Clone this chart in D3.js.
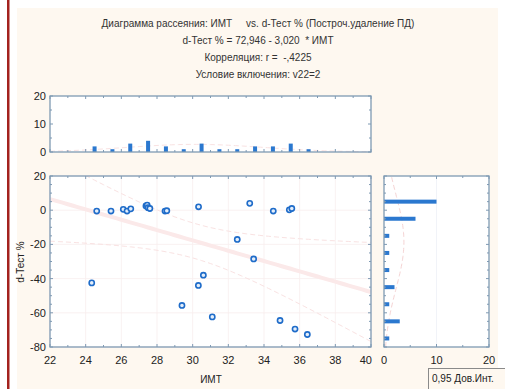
<!DOCTYPE html>
<html><head><meta charset="utf-8">
<script src="https://cdn.jsdelivr.net/npm/d3@7"></script>
<style>body{margin:0;background:#fff;}svg{display:block;font-family:"Liberation Sans",Arial,sans-serif;}</style>
</head><body><svg id="c" width="505" height="389"></svg>
<script>
// ---- data ----
const titleLines = ["Диаграмма рассеяния: ИМТ     vs. d-Тест % (Построч.удаление ПД)",
  "d-Тест % = 72,946 - 3,020  * ИМТ", "Корреляция: r =  -,4225", "Условие включения: v22=2"];
const imt   = [24.62,25.42,26.11,26.32,26.53,27.38,27.45,27.5,27.6,28.45,28.55,30.33,33.2,34.52,35.42,35.56,
               32.5,33.42,30.6,30.32,24.34,29.4,31.1,34.9,35.74,36.43];
const dtest = [-0.5,-0.5,0.5,-0.5,0.8,2.5,3,1.5,1,-0.5,-0.3,2,4,-0.5,0.2,1,
               -17.1,-28.5,-38,-44,-42.5,-55.7,-62.4,-64.5,-69.5,-72.7];
const regA = 72.946, regB = -3.020;
const xTicks = [22,24,26,28,30,32,34,36,38,40];
const yTicks = [20,0,-20,-40,-60,-80];
const topBinStarts = [24,25,26,27,28,29,30,31,32,33,34,35,36];
const topCounts    = [2,1,3,4,2,1,3,1,1,2,2,3,1];
const topTicks = [0,10,20];
const rightBinStarts = [0,-10,-20,-30,-40,-50,-60,-70,-80];
const rightCounts    = [10,6,1,1,1,2,1,3,1];
const rightTicks = [0,10,20];

const svg = d3.select("#c");
// background
svg.append("rect").attr("x",0).attr("y",0).attr("width",505).attr("height",389).attr("fill","#fff");
svg.append("rect").attr("x",17).attr("y",8).attr("width",481).attr("height",381).attr("fill","#fef8f0");
svg.append("rect").attr("x",7).attr("y",0).attr("width",2.5).attr("height",389).attr("fill","#a3221e");

const frameCol = "#7f9ab3", ptCol = "#1f6cc9", barCol = "#2b78cf", txtCol = "#222", pink = "#f9e2e2";

// titles
const ty = [23,40,57,74];
titleLines.forEach((t,i)=>svg.append("text").attr("x",258).attr("y",ty[i]+3.5).attr("text-anchor","middle")
  .attr("font-size",10).attr("fill","#333").style("white-space","pre").text(t));

// scales
const x = d3.scaleLinear().domain([22,40]).range([50,371]);
const y = d3.scaleLinear().domain([-80,20]).range([347,176]);
const yTop = d3.scaleLinear().domain([0,20]).range([152,96]);
const xR = d3.scaleLinear().domain([0,20]).range([384,489]);

// plot backgrounds
svg.append("rect").attr("x",50).attr("y",176).attr("width",321).attr("height",171).attr("fill","#fff");
svg.append("rect").attr("x",50).attr("y",96).attr("width",321).attr("height",56).attr("fill","#fff");
svg.append("rect").attr("x",384).attr("y",176).attr("width",105).attr("height",171).attr("fill","#fff");

// faint grids
const g = svg.append("g");
xTicks.forEach(v=>{ g.append("line").attr("x1",x(v)).attr("x2",x(v)).attr("y1",176).attr("y2",347).attr("stroke","#f8eded").attr("stroke-width",0.8);});
yTicks.forEach(v=>{ g.append("line").attr("x1",50).attr("x2",371).attr("y1",y(v)).attr("y2",y(v)).attr("stroke","#f8eded").attr("stroke-width",0.8);});
svg.append("line").attr("x1",xR(10)).attr("x2",xR(10)).attr("y1",176).attr("y2",347).attr("stroke","#eef0f6").attr("stroke-width",0.8);

// regression + confidence band (clipped)
svg.append("clipPath").attr("id","clipM").append("rect").attr("x",50).attr("y",176).attr("width",321).attr("height",171);
const cg = svg.append("g").attr("clip-path","url(#clipM)");
const n = imt.length, mx = d3.mean(imt);
const sxx = d3.sum(imt,v=>(v-mx)*(v-mx));
const se = Math.sqrt(d3.sum(imt,(v,i)=>Math.pow(dtest[i]-(regA+regB*v),2))/(n-2));
const xs = d3.range(22,40.01,0.25);
cg.append("path").datum(xs).attr("d",d3.line().x(v=>x(v)).y(v=>y(regA+regB*v)))
  .attr("fill","none").attr("stroke","#fbe9e9").attr("stroke-width",4);
[-1,1].forEach(s=>cg.append("path").datum(xs)
  .attr("d",d3.line().x(v=>x(v)).y(v=>y(regA+regB*v + s*2.06*se*Math.sqrt(1/n+(v-mx)*(v-mx)/sxx))))
  .attr("fill","none").attr("stroke",pink).attr("stroke-width",1).attr("stroke-dasharray","5,3"));

// points
svg.append("g").selectAll("circle").data(imt).join("circle")
  .attr("cx",(d)=>x(d)).attr("cy",(d,i)=>y(dtest[i])).attr("r",2.6)
  .attr("fill","#e4eefa").attr("stroke",ptCol).attr("stroke-width",1.6);

// top histogram
const yMean = d3.mean(dtest), ySd = d3.deviation(dtest), xSd = d3.deviation(imt);
svg.append("path").datum(d3.range(22,40.01,0.2)).attr("d",d3.line().x(v=>x(v))
  .y(v=>yTop(n*1*Math.exp(-0.5*Math.pow((v-mx)/xSd,2))/(xSd*Math.sqrt(2*Math.PI)))))
  .attr("fill","none").attr("stroke",pink).attr("stroke-width",1).attr("stroke-dasharray","5,3");
svg.append("g").selectAll("rect").data(topBinStarts).join("rect")
  .attr("x",d=>x(d+0.5)-2).attr("width",4).attr("y",(d,i)=>yTop(topCounts[i])).attr("height",(d,i)=>yTop(0)-yTop(topCounts[i]))
  .attr("fill",barCol);

// right histogram
svg.append("path").datum(d3.range(-80,20.01,1)).attr("d",d3.line().y(v=>y(v))
  .x(v=>xR(n*10*Math.exp(-0.5*Math.pow((v-yMean)/ySd,2))/(ySd*Math.sqrt(2*Math.PI)))))
  .attr("fill","none").attr("stroke","#f5d3d3").attr("stroke-width",1).attr("stroke-dasharray","5,3");
svg.append("g").selectAll("rect").data(rightBinStarts).join("rect")
  .attr("y",d=>y(d+5)-2).attr("height",4).attr("x",xR(0)).attr("width",(d,i)=>xR(rightCounts[i])-xR(0))
  .attr("fill",barCol);

// frames
function frame(x0,y0,w,h){ svg.append("rect").attr("x",x0).attr("y",y0).attr("width",w).attr("height",h)
  .attr("fill","none").attr("stroke",frameCol).attr("stroke-width",1.3); }
frame(50,176,321,171); frame(50,96,321,56); frame(384,176,105,171);

// tick marks (inside)
function tk(x1,y1,x2,y2){ svg.append("line").attr("x1",x1).attr("y1",y1).attr("x2",x2).attr("y2",y2).attr("stroke",frameCol).attr("stroke-width",1); }
d3.range(22,40.01,1).forEach(v=>{ const L = (v%2===0)?3:2;
  tk(x(v),347,x(v),347-L); tk(x(v),176,x(v),176+L); tk(x(v),96,x(v),96+L); tk(x(v),152,x(v),152-L); });
d3.range(-80,20.01,5).forEach(v=>{ const L = (v%20===0)?3:2;
  tk(50,y(v),50+L,y(v)); tk(371,y(v),371-L,y(v)); tk(384,y(v),384+L,y(v)); tk(489,y(v),489-L,y(v)); });
d3.range(0,20.01,5).forEach(v=>{ const L=(v%10===0)?3:2; tk(50,yTop(v),50+L,yTop(v)); tk(371,yTop(v),371-L,yTop(v));
  tk(xR(v),347,xR(v),347-L); tk(xR(v),176,xR(v),176+L); });

// tick labels
const fs = 11;
xTicks.forEach(v=>svg.append("text").attr("x",v===40?372:x(v)).attr("y",364).attr("text-anchor",v===40?"end":"middle")
  .attr("font-size",fs).attr("fill",txtCol).text(v));
yTicks.forEach(v=>svg.append("text").attr("x",46).attr("y",y(v)+4).attr("text-anchor","end")
  .attr("font-size",fs).attr("fill",txtCol).text(v));
topTicks.forEach(v=>svg.append("text").attr("x",46).attr("y",yTop(v)+4).attr("text-anchor","end")
  .attr("font-size",fs).attr("fill",txtCol).text(v));
rightTicks.forEach(v=>svg.append("text").attr("x",xR(v)).attr("y",364).attr("text-anchor","middle")
  .attr("font-size",fs).attr("fill",txtCol).text(v));

// axis titles
svg.append("text").attr("x",211).attr("y",383).attr("text-anchor","middle").attr("font-size",10).attr("fill",txtCol).text("ИМТ");
svg.append("text").attr("transform","translate(24,262) rotate(-90)").attr("text-anchor","middle").attr("font-size",10).attr("fill",txtCol).text("d-Тест %");

// legend box
svg.append("rect").attr("x",428.5).attr("y",368.5).attr("width",80).attr("height",22).attr("fill","#fef8f0").attr("stroke","#8a8a8a").attr("stroke-width",1);
svg.append("text").attr("x",432).attr("y",382).attr("font-size",10).attr("fill",txtCol).text("0,95 Дов.Инт.");
</script></body></html>
